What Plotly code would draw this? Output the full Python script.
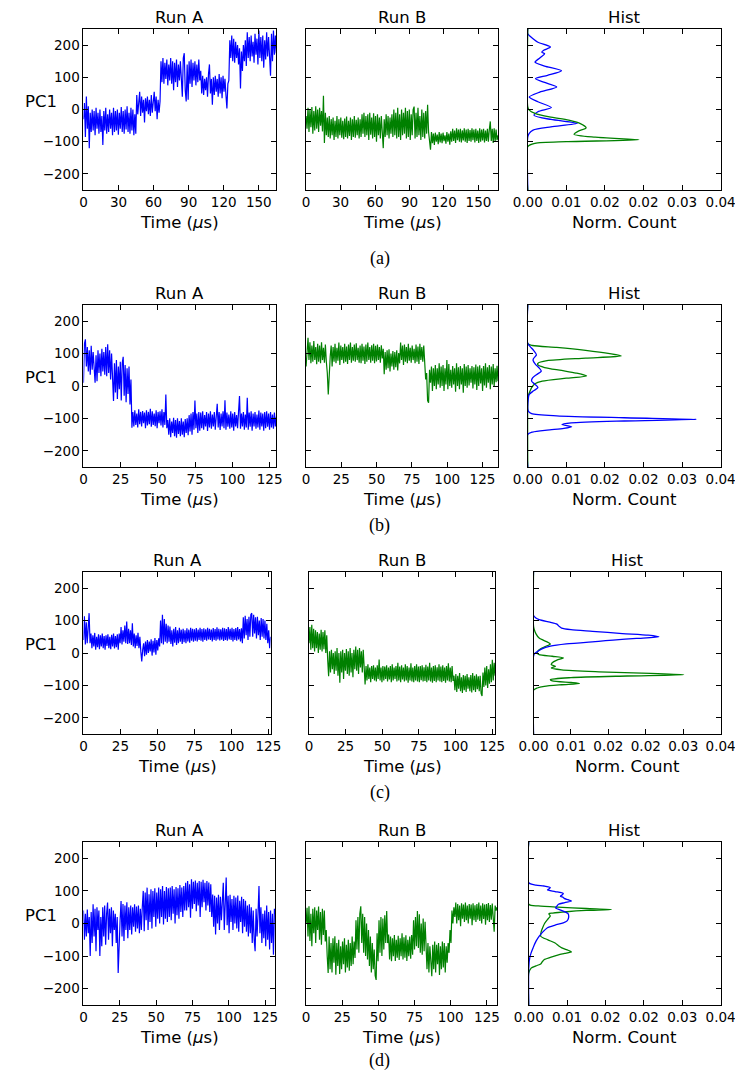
import numpy as np
import plotly.graph_objects as go

# ---------------- data ----------------
# durations (microseconds) of each run
T_aA, T_aB = 165, 167
T_bA, T_bB = 129.5, 136
T_cA, T_cB = 126.5, 127
T_dA, T_dB = 132, 132

# PC1 traces (uniformly sampled over the run duration, 200 samples each)
pc1_aA = [-30, 20, -85, 40, -60, 10, -120, -10, -70, 0,
          -65, -5, -80, 5, -60, -10, -75, 0, -70, -20,
          -110, -5, -65, 5, -75, -15, -70, 0, -60, -10,
          -80, 5, -70, -5, -65, 0, -78, -10, -60, 8,
          -70, -5, -75, 0, -62, 10, -70, -10, -75, 5,
          -65, 0, -80, -15, -75, 45, -15, 35, 55, -20,
          40, -10, 30, -40, 35, -5, 40, -15, 30, -20,
          45, -10, 35, 55, -5, 40, -30, 30, -10, 25,
          150, 85, 160, 80, 145, 95, 155, 75, 140, 90,
          160, 80, 150, 60, 145, 85, 155, 70, 140, 90,
          150, 75, 40, 160, 175, 60, 25, 140, 30, 150,
          80, 155, 70, 145, 90, 150, 75, 140, 85, 155,
          90, 120, 50, 105, 45, 95, 60, 100, 40, 110,
          140, 50, 95, 15, 100, 45, 105, 55, 95, 40,
          110, 50, 100, 35, 105, 55, 95, 45, 3, 80,
          90, 215, 160, 230, 150, 220, 145, 210, 160, 200,
          140, 190, 65, 180, 120, 200, 150, 215, 135, 240,
          160, 225, 150, 230, 165, 210, 145, 235, 170, 220,
          140, 245, 160, 225, 150, 230, 130, 215, 155, 240,
          165, 225, 140, 105, 235, 150, 245, 170, 230, 175]
pc1_aB = [-20, -60, 5, -70, 0, -55, 8, -75, -5, -65,
          10, -60, 0, -70, 5, -50, -5, -68, 43, -104,
          -10, -80, -25, -85, -20, -90, -30, -80, -25, -95,
          -35, -85, -20, -90, -30, -80, -25, -88, -35, -92,
          -28, -85, -22, -90, -35, -82, -25, -95, -30, -85,
          -20, -88, -32, -80, -25, -90, -30, -85, -15, -75,
          -10, -85, -20, -80, -15, -95, -10, -78, -25, -90,
          -12, -85, -20, -100, -15, -80, -25, -90, -20, -95,
          -120, -30, -85, -15, -80, -20, -90, -25, -75, -15,
          -85, 0, -80, -10, -90, 5, -85, -15, -95, 0,
          -80, -10, -75, 5, -90, -5, -85, 0, -95, -15,
          -80, 0, 9, -90, -10, -85, 5, -80, -20, -95,
          0, -85, -10, -90, -5, -75, 15, -70, -100, -125,
          -70, -105, -75, -110, -72, -100, -78, -108, -70, -102,
          -75, -105, -72, -98, -80, -106, -70, -100, -75, -109,
          -68, -100, -60, -98, -65, -104, -58, -95, -62, -100,
          -60, -102, -65, -96, -58, -100, -62, -104, -60, -98,
          -64, -100, -58, -95, -62, -102, -60, -98, -65, -104,
          -58, -100, -62, -96, -60, -102, -65, -98, -60, -100,
          -62, -37, -98, -60, -104, -58, -100, -62, -95, -80]
pc1_bA = [10, 130, 144, 60, 120, 45, 110, 35, 124, 50,
          105, 30, 10, 95, 15, 110, 40, 100, 30, 115,
          45, 105, 35, 120, 30, 129, 40, 110, 20, 100,
          15, -46, 70, -20, 80, -40, 60, -10, 75, -45,
          70, 90, -30, 65, -50, 55, -25, 60, -57, 20,
          -129, -80, -125, -75, -120, -85, -128, -72, -118, -80,
          -125, -77, -115, -82, -130, -75, -122, -80, -118, -70,
          -126, -78, -120, -85, -124, -75, -130, -80, -115, -78,
          -122, -72, -128, -80, -120, -26, -130, -105, -150, -100,
          -158, -110, -145, -98, -155, -105, -160, -100, -148, -108,
          -155, -100, -150, -110, -158, -102, -145, -100, -152, -90,
          -140, -85, -150, -80, -135, -45, -130, -85, -145, -80,
          -138, -82, -130, -78, -135, -90, -125, -80, -139, -85,
          -128, -78, -132, -88, -125, -80, -135, -85, -55, -128,
          -80, -136, -85, -125, -78, -130, -44, -135, -82, -126,
          -88, -132, -78, -128, -85, -138, -80, -125, -90, -130,
          -78, -31, -132, -85, -125, -80, -135, -88, -128, -36,
          -135, -82, -126, -78, -138, -85, -125, -80, -132, -88,
          -128, -76, -135, -82, -125, -85, -138, -80, -130, -78,
          -126, -85, -135, -80, -128, -88, -132, -82, -125, -95]
pc1_bB = [60, 130, 149, 80, 135, 70, 125, 75, 139, 80,
          120, 67, 130, 75, 125, 70, 135, 80, 118, 72,
          128, 75, 40, -26, 60, 90, 125, 60, 120, 75,
          130, 70, 118, 78, 134, 65, 125, 80, 120, 70,
          130, 75, 122, 68, 128, 80, 134, 72, 120, 78,
          128, 75, 132, 80, 118, 72, 125, 70, 130, 78,
          122, 68, 128, 75, 134, 80, 120, 72, 126, 78,
          130, 70, 124, 76, 128, 80, 120, 72, 126, 85,
          115, 36, 105, 50, 110, 55, 113, 45, 100, 60,
          108, 50, 105, 58, 110, 48, 102, 70, 134, 80,
          125, 65, 128, 75, 120, 70, 130, 78, 118, 72,
          125, 80, 115, 70, 128, 75, 122, 68, 130, 80,
          120, 75, 125, 85, 20, 40, -45, -52, 50, 10,
          60, -15, 55, 0, 65, -10, 55, 5, 70, -5,
          60, 0, 65, -15, 55, 5, 80, -10, 68, 0,
          50, -5, 62, 5, 55, -18, 70, 0, 58, -10,
          62, 5, 55, -21, 68, 0, 60, -5, 65, 2,
          55, 10, 62, -8, 58, 5, 66, -12, 60, 0,
          64, 8, 55, -15, 62, 2, 70, -5, 58, 10,
          65, -10, 60, 5, 68, -2, 55, 12, 62, 15]
pc1_cA = [40, 113, 26, 95, 30, 105, 123, 30, 60, 15,
          55, 20, 62, 10, 50, 18, 58, 12, 55, 20,
          60, 15, 52, 10, 55, 22, 58, 15, 50, 12,
          56, 20, 60, 14, 52, 18, 58, 10, 60, 30,
          80, 26, 70, 35, 85, 30, 97, 28, 75, 30,
          70, 25, 92, 20, 60, 15, 55, 22, 62, 15,
          50, 5, -26, 10, 30, -10, 35, -5, 40, 0,
          35, 5, 42, -8, 38, 2, 46, -5, 40, 8,
          45, 20, 100, 30, 118, 26, 105, 35, 90, 30,
          85, 35, 82, 28, 70, 20, 75, 32, 80, 25,
          70, 30, 78, 35, 72, 28, 75, 33, 70, 30,
          76, 36, 72, 32, 78, 38, 75, 35, 73, 38,
          77, 36, 72, 40, 78, 38, 74, 35, 76, 40,
          73, 38, 78, 42, 75, 40, 72, 36, 77, 40,
          74, 38, 79, 42, 75, 39, 73, 41, 78, 37,
          76, 40, 74, 38, 80, 42, 75, 40, 78, 36,
          74, 40, 77, 38, 80, 42, 74, 36, 76, 30,
          110, 45, 115, 55, 105, 40, 112, 50, 118, 123,
          50, 118, 60, 110, 45, 112, 55, 100, 40, 108,
          50, 105, 45, 100, 40, 90, 30, 70, 15, 50]
pc1_cB = [30, 80, 10, 87, 15, 75, 5, 70, 15, 65,
          0, 60, 10, 72, 5, 65, 12, 70, 0, 55,
          -20, -72, 5, -60, 10, -50, 0, -65, 5, -55,
          15, -70, 0, -92, 5, -60, 10, -80, 0, -55,
          12, -65, 5, -70, 15, -60, 0, -75, 10, -50,
          20, -55, 10, -65, 15, -45, 5, -60, 10, -50,
          -97, -40, -85, -35, -80, -45, -90, -40, -80, -38,
          -85, -45, -88, -38, -80, -20, -85, -45, -90, -40,
          -85, -42, -80, -38, -88, -45, -82, -40, -90, -35,
          -85, -45, -80, -40, -88, -30, -85, -42, -90, -38,
          -82, -45, -88, -35, -85, -40, -92, -45, -85, -32,
          -88, -45, -90, -40, -85, -35, -88, -42, -90, -40,
          -84, -38, -88, -44, -86, -36, -90, -42, -85, -30,
          -88, -45, -92, -40, -86, -38, -90, -44, -85, -35,
          -88, -42, -90, -38, -86, -45, -92, -40, -85, -32,
          -88, -45, -90, -40, -86, -70, -115, -65, -120, -70,
          -110, -62, -118, -75, -123, -68, -115, -70, -120, -65,
          -110, -75, -118, -68, -122, -62, -115, -70, -120, -66,
          -112, -72, -118, -70, -125, -133, -60, -105, -45, -100,
          -40, -108, -50, -95, -35, -90, -21, -85, -30, -70]
pc1_dA = [40, -50, 30, -40, 43, -30, 20, -100, 35, -60,
          59, -40, 45, -85, 50, -20, 40, -100, 20, -70,
          50, -40, 55, -65, 30, 64, -50, 45, -30, 50,
          -70, 40, -20, 30, -60, 20, -152, -40, 10, 69,
          -40, 60, -54, 55, -20, 65, -45, 50, -20, 55,
          -34, 50, -10, 59, -25, 52, -15, 55, -30, 45,
          -20, 50, 100, -24, 95, 10, 110, -20, 90, 5,
          105, -15, 100, 20, 108, -10, 95, 15, 110, 0,
          105, 20, 115, -3, 100, 15, 112, 5, 108, 20,
          110, 10, 115, 30, 105, 0, 112, 25, 108, 15,
          118, 35, 110, 20, 115, 40, 125, 40, 130, 50,
          120, 18, 136, 45, 128, 60, 132, 38, 125, 55,
          130, 20, 128, 50, 134, 65, 125, 40, 130, 55,
          126, 35, 120, 20, 89, -10, 85, -34, 80, 0,
          88, -20, 82, 10, 85, 125, -20, 80, 141, -5,
          85, -30, 88, 5, 75, -20, 85, 0, 80, -15,
          86, -25, 70, 5, 82, -30, 75, -10, 70, -25,
          55, -40, 59, -30, 50, -60, 40, -50, -85, 45,
          -40, 30, 115, -30, 50, -60, 30, -45, 40, -70,
          55, -50, 35, -80, 40, -60, 30, -96, 45, 30]
pc1_dB = [0, 48, -40, 53, -54, 30, -70, 45, -30, 50,
          -60, 40, -20, 52, -50, 35, -65, 45, -35, 40,
          -55, -20, -100, -152, -40, -140, -60, -150, -45, -120,
          -39, -157, -60, -130, -50, -155, -70, -140, -55, -125,
          -45, -150, -65, -135, -50, -145, -60, -130, -40, -125,
          -55, -106, 10, -80, 20, -90, 30, 53, -60, 30,
          -90, 20, -100, 0, -110, -20, -130, -40, -150, -60,
          -140, -80, -160, -173, -30, -116, 10, -90, 20, -100,
          15, -80, 25, -60, 38, -60, -34, -110, -40, -116,
          -45, -100, -35, -115, -50, -105, -38, -112, -45, -100,
          -30, -110, -42, -105, -36, -115, -50, -100, -40, -108,
          -35, -96, 10, -80, 20, -70, 38, -75, 28, -90,
          0, -96, 15, -85, 5, -54, -140, -60, -150, -70,
          -130, -162, -65, -140, -55, -150, -65, -125, -60, -158,
          -70, -140, -55, -135, -60, -150, -70, -120, -60, -90,
          -20, -60, 40, 0, 50, 20, 64, 0, 60, 10,
          55, -8, 62, 15, 58, 5, 64, 10, 55, 0,
          60, 15, 58, -5, 62, 10, 56, 5, 60, 12,
          64, 8, 55, 0, 62, 14, 58, -4, 60, 10,
          63, 5, 57, 12, 61, -2, -25, 55, 40, 50]

# normalised histograms: PC1 level and count
hA_pc = [250, 235, 220, 209, 194, 184, 178, 173, 160, 147, 135, 120, 106, 96, 84, 70, 54, 39, 24, 6,
         -7, -18, -31, -43, -54, -64, -74, -85, -250]
hA_blue = [0, 0, 0.0011, 0.0021, 0.0047, 0.0033, 0.0029, 0.0035, 0.0025, 0.0015, 0.0035, 0.0070, 0.0041, 0.0016,
           0.0035, 0.0060, 0.0025, 0.0003, 0.0021, 0.0049, 0.0021, 0.0013, 0.0048, 0.0103, 0.0048, 0.0011,
           0.0003, 0, 0]
hA_g_pc = [250, 8, -2, -12, -23, -33, -43, -57, -67, -77, -86, -94, -100, -105, -115, -250]
hA_green = [0, 0, 0.0003, 0.0015, 0.0045, 0.0085, 0.0108, 0.0121, 0.0105, 0.0096, 0.0140, 0.0231, 0.0080,
            0.0015, 0, 0]

hB_pc = [250, 131, 120, 110, 96, 85, 79, 67, 55, 46, 35, 25, 15, 5, -5, -15, -26, -40, -77, -85, -92,
         -98, -103, -108, -114, -119, -126, -131, -136, -142, -149, -250]
hB_blue = [0, 0, 0.0006, 0.0012, 0.0018, 0.0012, 0.0011, 0.0016, 0.0024, 0.0028, 0.0018, 0.0010, 0.0008,
           0.0015, 0.0021, 0.0012, 0.0003, 0.0001, 0.0001, 0.0008, 0.0060, 0.0200, 0.0350, 0.0200, 0.0090,
           0.0071, 0.0091, 0.0075, 0.0040, 0.0010, 0, 0]
hB_g_pc = [250, 131, 125, 119, 110, 100, 93, 86, 78, 70, 65, 57, 48, 40, 31, 24, 15, 7, -5, -15, -30, -45, -250]
hB_green = [0, 0, 0.0010, 0.0060, 0.0120, 0.0170, 0.0194, 0.0120, 0.0040, 0.0021, 0.0021, 0.0035, 0.0070,
            0.0100, 0.0122, 0.0080, 0.0030, 0.0015, 0.0008, 0.0005, 0.0001, 0, 0]

hC_pc = [250, 116, 108, 103, 95, 89, 82, 77, 72, 67, 60, 55, 50, 45, 40, 36, 28, 21, 13, 5, -2, -10, -250]
hC_blue = [0, 0, 0.0005, 0.0012, 0.0035, 0.0050, 0.0055, 0.0060, 0.0080, 0.0126, 0.0190, 0.0245, 0.0268,
           0.0220, 0.0170, 0.0139, 0.0070, 0.0036, 0.0018, 0.0009, 0.0002, 0, 0]
hC_g_pc = [250, 82, 70, 60, 46, 35, 28, 20, 10, 0, -5, -10, -15, -22, -30, -36, -41, -46, -52, -58, -63,
           -67, -71, -76, -82, -86, -91, -94, -98, -103, -108, -115, -250]
hC_green = [0, 0, 0.0002, 0.0005, 0.0012, 0.0028, 0.0036, 0.0025, 0.0012, 0.0008, 0.0012, 0.0040, 0.0064,
            0.0050, 0.0040, 0.0038, 0.0047, 0.0038, 0.0060, 0.0140, 0.0250, 0.0321, 0.0200, 0.0080, 0.0036,
            0.0040, 0.0080, 0.0098, 0.0060, 0.0023, 0.0008, 0, 0]

hD_pc = [250, 125, 118, 115, 110, 106, 103, 98, 92, 88, 84, 80, 77, 73, 69, 64, 59, 52, 48, 40, 30, 17,
         8, 2, -5, -13, -25, -39, -55, -75, -90, -106, -137, -250]
hD_blue = [0, 0, 0.0015, 0.0032, 0.0045, 0.0042, 0.0039, 0.0055, 0.0072, 0.0070, 0.0066, 0.0072, 0.0074,
           0.0082, 0.0089, 0.0075, 0.0062, 0.0058, 0.0056, 0.0068, 0.0082, 0.0083, 0.0080, 0.0072, 0.0055,
           0.0039, 0.0030, 0.0022, 0.0015, 0.0009, 0.0005, 0.0002, 0, 0]
hD_g_pc = [250, 59, 54, 50, 46, 43, 40, 36, 32, 30, 23, 17, 12, 0, -13, -25, -39, -50, -60, -68, -75, -82,
           -87, -92, -96, -104, -111, -118, -124, -130, -137, -152, -250]
hD_green = [0, 0, 0.0020, 0.0060, 0.0120, 0.0173, 0.0120, 0.0079, 0.0050, 0.0042, 0.0045, 0.0042, 0.0039,
            0.0033, 0.0029, 0.0026, 0.0025, 0.0040, 0.0055, 0.0062, 0.0069, 0.0082, 0.0089, 0.0075, 0.0062,
            0.0045, 0.0032, 0.0028, 0.0025, 0.0015, 0.0005, 0, 0]

row_labels = ["(a)", "(b)", "(c)", "(d)"]
panel_titles = ["Run A", "Run B", "Hist"]
y_ticks = [-200, -100, 0, 100, 200]
y_ticktext = ["\u2212200", "\u2212100", "0", "100", "200"]
hist_ticks = [0, 0.008, 0.016, 0.024, 0.032, 0.04]
hist_ticktext = ["0.00", "0.01", "0.02", "0.02", "0.03", "0.04"]
time_ticks_a = [0, 30, 60, 90, 120, 150]
time_ticks = [0, 25, 50, 75, 100, 125]

# ---------------- layout geometry (pixels) ----------------
W, H = 743, 1070
BLUE, GREEN = "#0000ff", "#008000"
FONT = "DejaVu Sans"

rows = [
    dict(top=21, bot=182, cols=[(63, 264), (295, 495), (526, 727)], lab_y=250,
         runs=[(pc1_aA, T_aA), (pc1_aB, T_aB)], ticks=time_ticks_a,
         hist=[(hA_pc, hA_blue, BLUE), (hA_g_pc, hA_green, GREEN)]),
    dict(top=297, bot=459, cols=[(63, 264), (295, 495), (526, 727)], lab_y=517,
         runs=[(pc1_bA, T_bA), (pc1_bB, T_bB)], ticks=time_ticks,
         hist=[(hB_g_pc, hB_green, GREEN), (hB_pc, hB_blue, BLUE)]),
    dict(top=564, bot=726, cols=[(63, 258), (298, 492), (532, 727)], lab_y=784,
         runs=[(pc1_cA, T_cA), (pc1_cB, T_cB)], ticks=time_ticks,
         hist=[(hC_g_pc, hC_green, GREEN), (hC_pc, hC_blue, BLUE)]),
    dict(top=834, bot=997, cols=[(63, 263), (295, 494), (527, 727)], lab_y=1052,
         runs=[(pc1_dA, T_dA), (pc1_dB, T_dB)], ticks=time_ticks,
         hist=[(hD_g_pc, hD_green, GREEN), (hD_pc, hD_blue, BLUE)]),
]

fx = lambda px: px / W
fy = lambda py: 1 - py / H

fig = go.Figure()
layout = {}
annotations = []
ax_style = dict(showline=True, linecolor="black", linewidth=1, mirror="allticks",
                ticks="inside", ticklen=5, tickcolor="black", showgrid=False, zeroline=False,
                tickfont=dict(family=FONT, size=13.5, color="black"))

k = 0
for r, row in enumerate(rows):
    for c in range(3):
        k += 1
        xa = "x" if k == 1 else f"x{k}"
        ya = "y" if k == 1 else f"y{k}"
        x0, x1 = row["cols"][c]
        xd = [fx(x0), fx(x1)]
        yd = [fy(row["bot"]), fy(row["top"])]
        if c < 2:
            vals, T = row["runs"][c]
            t = np.linspace(0, T, len(vals))
            fig.add_trace(go.Scatter(x=t, y=vals, mode="lines", xaxis=xa, yaxis=ya,
                                     line=dict(color=BLUE if c == 0 else GREEN, width=1.2),
                                     showlegend=False, hoverinfo="skip"))
            xax = dict(ax_style, domain=xd, anchor=ya, range=[0, T],
                       tickvals=row["ticks"], ticktext=[str(v) for v in row["ticks"]])
            xlabel = "Time (<i>\u03bc</i>s)"
        else:
            for pcs, cnt, col in row["hist"]:
                fig.add_trace(go.Scatter(x=cnt, y=pcs, mode="lines", xaxis=xa, yaxis=ya,
                                         line=dict(color=col, width=1.3, shape="spline", smoothing=0.7),
                                         showlegend=False, hoverinfo="skip"))
            xax = dict(ax_style, domain=xd, anchor=ya, range=[0, 0.04],
                       tickvals=hist_ticks, ticktext=hist_ticktext)
            xlabel = "Norm. Count"
        yax = dict(ax_style, domain=yd, anchor=xa, range=[-250, 250],
                   tickvals=y_ticks, ticktext=y_ticktext, showticklabels=(c == 0))
        layout["xaxis" if k == 1 else f"xaxis{k}"] = xax
        layout["yaxis" if k == 1 else f"yaxis{k}"] = yax
        annotations.append(dict(text=panel_titles[c], xref="paper", yref="paper",
                                x=(xd[0] + xd[1]) / 2, y=yd[1], yshift=12, xanchor="center",
                                yanchor="middle", showarrow=False,
                                font=dict(family=FONT, size=16.5, color="black")))
        annotations.append(dict(text=xlabel, xref="paper", yref="paper",
                                x=(xd[0] + xd[1]) / 2, y=yd[0], yshift=-32, xanchor="center",
                                yanchor="middle", showarrow=False,
                                font=dict(family=FONT, size=16.5, color="black")))
    annotations.append(dict(text="PC1", xref="paper", yref="paper", x=0, xshift=0,
                            y=fy((row["top"] + row["bot"]) / 2 - 8.5), xanchor="left",
                            yanchor="middle", showarrow=False,
                            font=dict(family=FONT, size=16.5, color="black")))
    annotations.append(dict(text=row_labels[r], xref="paper", yref="paper", x=fx(372),
                            y=fy(row["lab_y"]), xanchor="center", yanchor="middle", showarrow=False,
                            font=dict(family="Liberation Serif", size=18, color="black")))

fig.update_layout(width=W, height=H, margin=dict(l=0, r=0, t=0, b=0),
                  paper_bgcolor="white", plot_bgcolor="white",
                  annotations=annotations, **layout)
fig.write_html("out.html")
